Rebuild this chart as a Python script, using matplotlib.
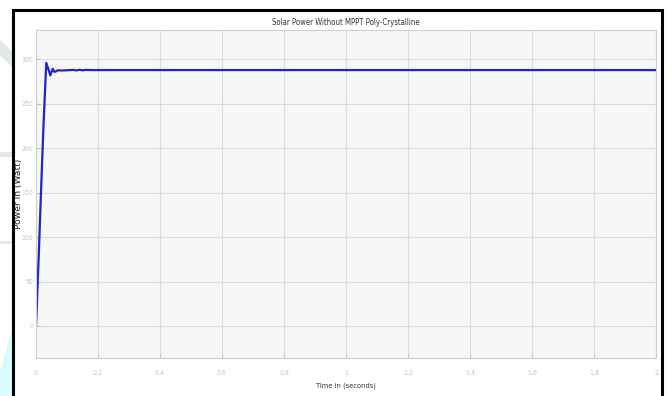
import matplotlib
matplotlib.use("Agg")
import matplotlib.pyplot as plt
from matplotlib import font_manager
from matplotlib.patches import Rectangle, Polygon

# --- data ---
time_s = [0.0, 0.008, 0.016, 0.024, 0.033, 0.040, 0.046, 0.050, 0.054, 0.059,
          0.064, 0.070, 0.080, 0.100, 0.120, 0.130, 0.140, 0.150, 0.160, 0.180, 2.0]
power_w = [0.0, 72.0, 150.0, 225.0, 296.0, 289.0, 282.0, 286.0, 289.5, 286.0,
           286.5, 287.8, 287.5, 287.8, 288.2, 287.6, 288.3, 287.7, 288.2, 288.0, 288.0]
x_ticks = [0, 0.2, 0.4, 0.6, 0.8, 1, 1.2, 1.4, 1.6, 1.8, 2]
x_tick_labels = ["0", "0.2", "0.4", "0.6", "0.8", "1", "1.2", "1.4", "1.6", "1.8", "2"]
y_ticks = [0, 50, 100, 150, 200, 250, 300]

# pick a condensed face if one is installed
cond = [f.name for f in font_manager.fontManager.ttflist
        if f.stretch in ("condensed", "semi-condensed", "extra-condensed") or "Narrow" in f.name
        or "Condensed" in f.name]
narrow = dict(family="DejaVu Sans", fontstretch="condensed") if cond else dict(family="Liberation Sans")

fig = plt.figure(figsize=(6.71, 3.96), dpi=100)
fig.patch.set_facecolor("white")

# faint page decorations on the left edge
fig.patches.append(Polygon([[0, 0], [0.018, 0], [0.018, 0.17], [0, 0.06]], closed=True,
                           transform=fig.transFigure, facecolor="#d8fbfd", edgecolor="none"))
fig.patches.append(Polygon([[0, 0.90], [0.018, 0.87], [0.018, 0.83], [0, 0.86]], closed=True,
                           transform=fig.transFigure, facecolor="#e3e8ea", edgecolor="none"))
fig.patches.append(Rectangle((0, 0.603), 0.018, 0.012, transform=fig.transFigure,
                             facecolor="#e3e8ea", edgecolor="none"))
fig.patches.append(Rectangle((0, 0.385), 0.018, 0.006, transform=fig.transFigure,
                             facecolor="#e3e8ea", edgecolor="none"))
# black frame round the screenshot
fig.patches.append(Rectangle((0.019, -0.01), 0.967, 0.985, transform=fig.transFigure,
                             facecolor="none", edgecolor="black", linewidth=2.2, zorder=10))

ax = fig.add_axes([0.0537, 0.096, 0.924, 0.828])
ax.set_facecolor("#f7f7f7")
ax.plot(time_s, power_w, color="#2323c8", linewidth=1.6)

ax.set_xlim(0, 2)
ax.set_ylim(-36, 333)
ax.set_xticks(x_ticks)
ax.set_xticklabels(x_tick_labels)
ax.set_yticks(y_ticks)
ax.tick_params(colors="#c4c4c4", labelsize=5, length=3, direction="in")
ax.tick_params(axis="x", pad=9)
ax.tick_params(axis="y", pad=2)
for lab in ax.get_xticklabels() + ax.get_yticklabels():
    lab.set(**narrow)
for sp in ax.spines.values():
    sp.set_color("#cfcfcf")
    sp.set_linewidth(0.8)
ax.grid(True, color="#dcdcdc", linewidth=0.8)
ax.set_axisbelow(True)

ax.set_title("Solar Power Without MPPT Poly-Crystalline", fontsize=5.6, color="#333333",
             pad=4, **narrow)
ax.set_xlabel("Time in (seconds)", fontsize=5.4, color="#333333", labelpad=4, **narrow)
ax.set_ylabel("Power in (Watt)", fontsize=6.6, family="DejaVu Sans", color="#222222")
ax.yaxis.set_label_coords(-0.021, 0.5)

plt.savefig("out.png", dpi=100)
